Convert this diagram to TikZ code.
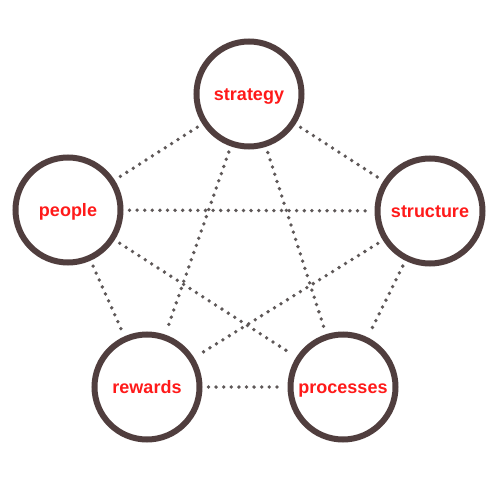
\documentclass[tikz,border=0pt]{standalone}
\usepackage{fontspec}
\setmainfont{Liberation Sans}
\definecolor{ringbrown}{HTML}{503E3E}
\definecolor{labelred}{HTML}{FF1A1A}
\definecolor{dotgray}{HTML}{5E5858}
\tikzset{
  area/.style={ circle, draw=ringbrown, line width=6pt, fill=white, minimum size=105pt,
    inner sep=0pt, text height=15pt, text depth=2pt,
    font=\fontsize{18}{21}\selectfont\bfseries, text=labelred },
  link/.style={ dotgray, line width=3.8pt, line cap=round, dash pattern=on 0pt off 7.6pt,
    shorten <=6pt, shorten >=6pt }
}
\begin{document}
\begin{tikzpicture}[ x=1pt, y=-1pt ]
  \useasboundingbox (0,0) rectangle (500,500);
  \node [ area ] (strategy) at (249,94) { strategy };
  \node [ area ] (people) at (68,210) { people };
  \node [ area ] (structure) at (430,211) { structure };
  \node [ area ] (rewards) at (147,387) { rewards };
  \node [ area ] (processes) at (343,387) { processes };

  \draw [ link ] (strategy)--(people);
  \draw [ link ] (strategy)--(structure);
  \draw [ link ] (strategy)--(rewards);
  \draw [ link ] (strategy)--(processes);
  \draw [ link ] (people)--(structure);
  \draw [ link ] (people)--(rewards);
  \draw [ link ] (people)--(processes);
  \draw [ link ] (structure)--(rewards);
  \draw [ link ] (structure)--(processes);
  \draw [ link ] (rewards)--(processes);
\end{tikzpicture}
\end{document}
